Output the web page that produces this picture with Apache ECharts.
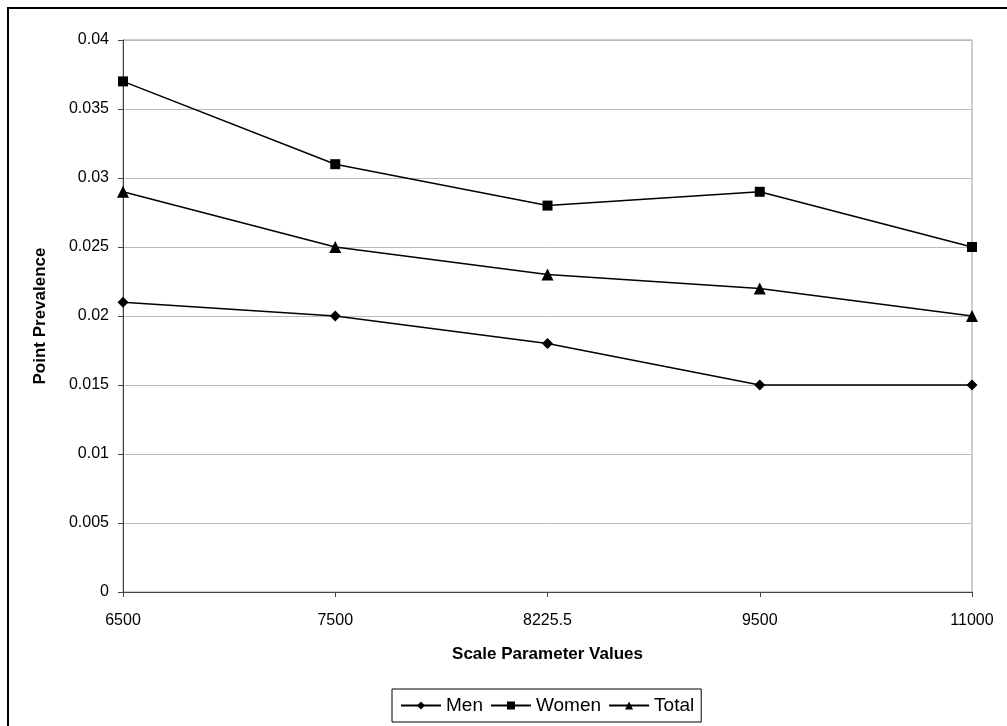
<!DOCTYPE html>
<html>
<head>
<meta charset="utf-8">
<script src="https://cdn.jsdelivr.net/npm/echarts@6/dist/echarts.min.js"></script>
<style>
  html, body { margin: 0; padding: 0; background: #fff; }
  #chart { width: 1007px; height: 726px; }
</style>
</head>
<body>
<div id="chart"></div>
<script>
// Data
const scaleValues = ['6500', '7500', '8225.5', '9500', '11000'];
const menValues = [0.021, 0.020, 0.018, 0.015, 0.015];
const womenValues = [0.037, 0.031, 0.028, 0.029, 0.025];
const totalValues = [0.029, 0.025, 0.023, 0.022, 0.020];

const fontFamily = '"Liberation Sans", Arial, sans-serif';

function lineSeries(name, data, symbol, size) {
    return {
        name: name,
        type: 'line',
        data: data,
        symbol: symbol,
        symbolSize: size,
        showAllSymbol: true,
        lineStyle: { color: '#000', width: 1.5 },
        itemStyle: { color: '#000' },
        emphasis: { disabled: true }
    };
}

const chart = echarts.init(document.getElementById('chart'));

const option = {
    animation: false,
    backgroundColor: '#fff',
    graphic: [{
        type: 'rect',
        shape: { x: 8, y: 8, width: 1020, height: 740 },
        style: { fill: 'none', stroke: '#000', lineWidth: 2 },
        silent: true
    }],
    grid: {
        left: 123,
        right: 35,
        top: 40,
        bottom: 134,
        show: true,
        borderColor: '#999',
        borderWidth: 1
    },
    legend: {
        bottom: 4,
        left: 392,
        data: ['Men', 'Women', 'Total'],
        itemWidth: 40,
        itemHeight: 10,
        itemGap: 7,
        padding: [7, 7, 7, 8],
        borderColor: '#000',
        borderWidth: 1,
        textStyle: { fontFamily: fontFamily, fontSize: 19, color: '#000' }
    },
    xAxis: {
        type: 'category',
        data: scaleValues,
        boundaryGap: false,
        name: 'Scale Parameter Values',
        nameLocation: 'middle',
        nameGap: 54,
        nameTextStyle: { fontFamily: fontFamily, fontSize: 17, fontWeight: 'bold', color: '#000' },
        axisLine: { lineStyle: { color: '#444', width: 1 } },
        axisTick: { show: true, length: 5, lineStyle: { color: '#444' } },
        axisLabel: { fontFamily: fontFamily, fontSize: 16, color: '#000', margin: 21 },
        splitLine: { show: false }
    },
    yAxis: {
        type: 'value',
        min: 0,
        max: 0.04,
        interval: 0.005,
        name: 'Point Prevalence',
        nameLocation: 'middle',
        nameGap: 74,
        nameTextStyle: { fontFamily: fontFamily, fontSize: 17, fontWeight: 'bold', color: '#000' },
        axisLine: { show: true, lineStyle: { color: '#444', width: 1 } },
        axisTick: { show: true, length: 5, inside: false, lineStyle: { color: '#444' } },
        axisLabel: {
            fontFamily: fontFamily,
            fontSize: 16,
            color: '#000',
            margin: 14,
            formatter: function (v) { return String(parseFloat(v.toFixed(3))); }
        },
        splitLine: { show: true, lineStyle: { color: '#bbb', width: 1 } }
    },
    series: [
        lineSeries('Men', menValues, 'diamond', 11),
        lineSeries('Women', womenValues, 'rect', 10),
        lineSeries('Total', totalValues, 'triangle', 12)
    ]
};

chart.setOption(option);
</script>
</body>
</html>
